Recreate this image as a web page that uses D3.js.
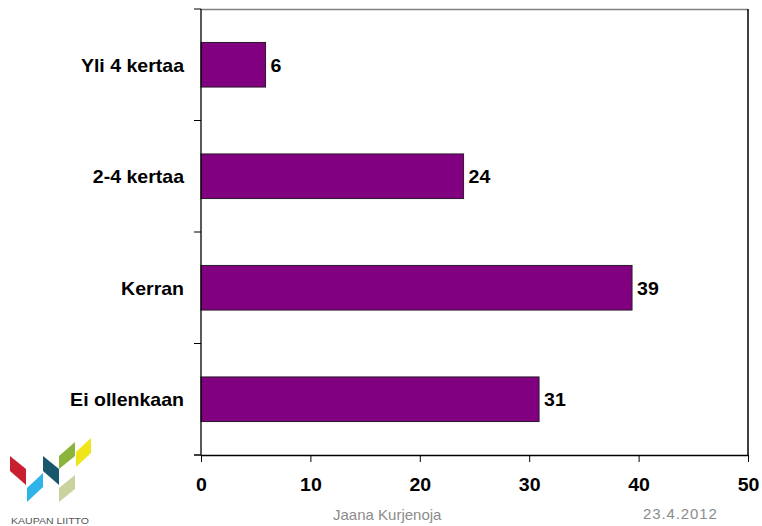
<!DOCTYPE html>
<html>
<head>
<meta charset="utf-8">
<script src="https://cdn.jsdelivr.net/npm/d3@7"></script>
<style>
  html, body { margin: 0; padding: 0; background: #fff; }
  svg { display: block; }
  text { font-family: "Liberation Sans", Arial, sans-serif; }
</style>
</head>
<body>
<svg id="chart" width="762" height="526"></svg>
<script>
// ---- data ----
const categories = ["Yli 4 kertaa", "2-4 kertaa", "Kerran", "Ei ollenkaan"];
const values = [5.9, 24.0, 39.4, 30.9];
const valueLabels = ["6", "24", "39", "31"];
const xTicks = [0, 10, 20, 30, 40, 50];
const footerAuthor = "Jaana Kurjenoja";
const footerDate = "23.4.2012";
const logoText = "KAUPAN LIITTO";

// ---- layout ----
const svg = d3.select("#chart");
const plotL = 201, plotR = 748, plotT = 9, plotB = 455;
const labelSize = 18;
const stretch = 1.085; // slide text is slightly wider than tall

const x = d3.scaleLinear().domain([0, 50]).range([plotL, plotR]);
const y = d3.scaleBand().domain(categories).range([plotT, plotB])
  .paddingInner(0.6).paddingOuter(0.3);

// plot border: top grey, right black
svg.append("line").attr("x1", plotL).attr("x2", plotR).attr("y1", plotT + 0.5).attr("y2", plotT + 0.5)
  .attr("stroke", "#808080").attr("stroke-width", 1.5);
svg.append("line").attr("x1", plotR).attr("x2", plotR).attr("y1", plotT).attr("y2", plotB)
  .attr("stroke", "#000").attr("stroke-width", 1.5);

// bars
svg.selectAll("rect.bar").data(categories).join("rect")
  .attr("class", "bar")
  .attr("x", x(0))
  .attr("y", d => y(d))
  .attr("width", (d, i) => x(values[i]) - x(0))
  .attr("height", y.bandwidth())
  .attr("fill", "#800080")
  .attr("stroke", "#2a1a2a")
  .attr("stroke-width", 1);

// value labels
svg.selectAll("text.val").data(categories).join("text")
  .attr("class", "val")
  .attr("transform", (d, i) => `translate(${x(values[i]) + 5},${y(d) + y.bandwidth() / 2}) scale(${stretch},1)`)
  .attr("dy", "0.38em")
  .attr("font-size", labelSize).attr("font-weight", "bold").attr("fill", "#000")
  .text((d, i) => valueLabels[i]);

// y axis (category boundaries as ticks)
const boundaries = d3.range(categories.length + 1).map(i => plotT + i * (plotB - plotT) / categories.length);
svg.append("line").attr("x1", plotL).attr("x2", plotL).attr("y1", plotT).attr("y2", plotB)
  .attr("stroke", "#000").attr("stroke-width", 1.3);
svg.selectAll("line.ytick").data(boundaries).join("line")
  .attr("class", "ytick")
  .attr("x1", plotL - 7).attr("x2", plotL).attr("y1", d => d).attr("y2", d => d)
  .attr("stroke", "#000").attr("stroke-width", 1);

// category labels
svg.selectAll("text.cat").data(categories).join("text")
  .attr("class", "cat")
  .attr("transform", d => `translate(${plotL - 17},${y(d) + y.bandwidth() / 2}) scale(${stretch},1)`)
  .attr("dy", "0.38em")
  .attr("text-anchor", "end")
  .attr("font-size", labelSize).attr("font-weight", "bold").attr("fill", "#000")
  .text(d => d);

// x axis
const xAxis = d3.axisBottom(x).tickValues(xTicks).tickSize(7).tickSizeOuter(0).tickPadding(16);
const gx = svg.append("g").attr("transform", `translate(0,${plotB})`).call(xAxis);
gx.select(".domain").attr("stroke", "#000").attr("stroke-width", 1.3);
gx.selectAll(".tick line").attr("stroke", "#000");
gx.selectAll(".tick text")
  .attr("transform", `scale(${stretch},1)`)
  .attr("font-family", "Liberation Sans, Arial, sans-serif")
  .attr("font-size", labelSize).attr("font-weight", "bold").attr("fill", "#000");
svg.append("line").attr("x1", plotL - 7).attr("x2", plotL).attr("y1", plotB).attr("y2", plotB)
  .attr("stroke", "#000").attr("stroke-width", 1);

// footer
svg.append("text").attr("x", 333).attr("y", 520)
  .attr("font-size", 15).attr("fill", "#8c8c8c").text(footerAuthor);
svg.append("text").attr("x", 643).attr("y", 519)
  .attr("font-size", 15).attr("letter-spacing", 0.9).attr("fill", "#8c8c8c").text(footerDate);

// logo
const logo = [
  { pts: [[10,456],[26,469],[26,485],[10,471]], c: "#c8202f" },
  { pts: [[27,488],[43,473],[43,487],[27,502]], c: "#2eb4e6" },
  { pts: [[43,456],[59,469],[59,485],[43,471]], c: "#17576b" },
  { pts: [[59,456],[75,442],[75,456],[59,469]], c: "#8cb43c" },
  { pts: [[76,452],[91,438],[91,453],[76,467]], c: "#f0e41a" },
  { pts: [[59,488],[75,475],[75,489],[59,502]], c: "#c9d39e" }
];
svg.selectAll("polygon.logo").data(logo).join("polygon")
  .attr("class", "logo")
  .attr("points", d => d.pts.map(p => p.join(",")).join(" "))
  .attr("fill", d => d.c);
svg.append("text").attr("x", 11).attr("y", 524)
  .attr("font-size", 9.5).attr("fill", "#555").attr("textLength", 78)
  .attr("lengthAdjust", "spacingAndGlyphs").text(logoText);
</script>
</body>
</html>
